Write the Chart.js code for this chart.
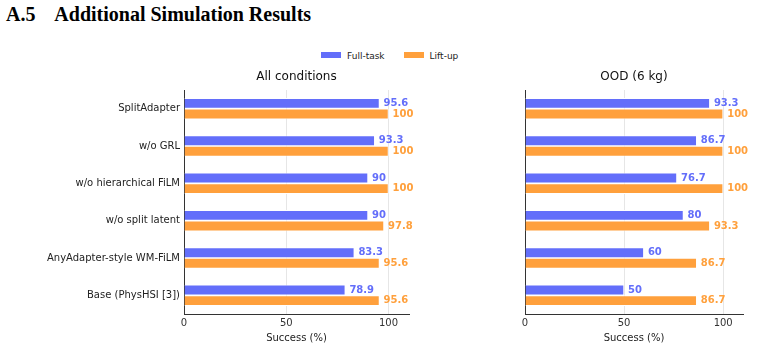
<!DOCTYPE html>
<html>
<head>
<meta charset="utf-8">
<script src="https://cdn.jsdelivr.net/npm/chart.js@4.4.1/dist/chart.umd.min.js"></script>
<style>
  body { margin: 0; background: #fff; width: 759px; height: 349px; position: relative; overflow: hidden; }
  h2 { position: absolute; left: 6px; top: 3px; margin: 0; font: bold 20px "Liberation Serif", "Times New Roman", serif; color: #000; }
  #legend { position: absolute; top: 51px; left: 321px; font: 9px "DejaVu Sans", sans-serif; color: #222; }
  #legend span.sw { display: inline-block; width: 20px; height: 6px; margin-right: 6px; vertical-align: 1px; }
  #legend span.it { margin-right: 19px; }
  .box { position: absolute; top: 62px; height: 287px; }
</style>
</head>
<body>
<h2>A.5&nbsp;&nbsp;&nbsp; Additional Simulation Results</h2>
<div id="legend"></div>
<div class="box" style="left:0;width:425px"><canvas id="c1"></canvas></div>
<div class="box" style="left:340px;width:419px"><canvas id="c2"></canvas></div>
<script>
// data
const categories = ['SplitAdapter', 'w/o GRL', 'w/o hierarchical FiLM', 'w/o split latent', 'AnyAdapter-style WM-FiLM', 'Base (PhysHSI [3])'];
const seriesNames = ['Full-task', 'Lift-up'];
const allFull = [95.6, 93.3, 90, 90, 83.3, 78.9];
const allLift = [100, 100, 100, 97.8, 95.6, 95.6];
const oodFull = [93.3, 86.7, 76.7, 80, 60, 50];
const oodLift = [100, 100, 100, 93.3, 86.7, 86.7];
const xTicks = [0, 50, 100];

const blue = '#636EFA';
const orange = '#FFA03C';
const font = '"DejaVu Sans", sans-serif';

// legend
document.getElementById('legend').innerHTML = seriesNames.map((n, i) =>
  `<span class="sw" style="background:${i ? orange : blue}"></span><span class="it">${n}</span>`).join('');

// value labels next to bar ends + panel title centred on the plot area
const extras = {
  id: 'extras',
  afterDatasetsDraw(chart, args, opts) {
    const ctx = chart.ctx;
    const area = chart.chartArea;
    ctx.save();
    ctx.font = 'bold 10px ' + font;
    ctx.textBaseline = 'middle';
    chart.data.datasets.forEach((ds, i) => {
      chart.getDatasetMeta(i).data.forEach((bar, j) => {
        ctx.fillStyle = ds.backgroundColor;
        ctx.fillText(String(ds.data[j]), bar.x + 4, bar.y);
      });
    });
    ctx.font = '12px ' + font;
    ctx.fillStyle = '#111';
    ctx.textAlign = 'center';
    ctx.fillText(opts.text, (area.left + area.right) / 2, area.top - 13);
    ctx.restore();
  }
};

function makeChart(id, title, full, lift, showLabels) {
  return new Chart(document.getElementById(id), {
    type: 'bar',
    data: {
      labels: categories,
      datasets: [
        { label: seriesNames[0], data: full, backgroundColor: blue, borderColor: '#fff', borderWidth: 0.8 },
        { label: seriesNames[1], data: lift, backgroundColor: orange, borderColor: '#fff', borderWidth: 0.8 }
      ]
    },
    options: {
      indexAxis: 'y',
      responsive: true,
      maintainAspectRatio: false,
      animation: false,
      categoryPercentage: 0.565,
      barPercentage: 1,
      layout: { padding: { top: 28, right: 16, bottom: 5, left: 0 } },
      plugins: {
        legend: { display: false },
        tooltip: { enabled: false },
        extras: { text: title }
      },
      scales: {
        x: {
          min: 0, max: 110,
          afterBuildTicks: a => { a.ticks = xTicks.map(v => ({ value: v })); },
          grid: { color: ctx => ctx.tick && ctx.tick.value === 0 ? 'rgba(0,0,0,0)' : '#e6e6e6', drawTicks: false },
          border: { display: true, color: '#333', width: 1 },
          ticks: { color: '#333', font: { family: font, size: 10 }, padding: 3 },
          title: { display: true, text: 'Success (%)', color: '#222', font: { family: font, size: 10 }, padding: { top: 0, bottom: 0 } }
        },
        y: {
          afterFit: s => { s.width = showLabels ? 184 : 185; },
          grid: { display: false, drawTicks: false },
          border: { display: true, color: '#333', width: 1 },
          ticks: { display: showLabels, color: '#222', font: { family: font, size: 10 }, padding: 4 }
        }
      }
    },
    plugins: [extras]
  });
}

makeChart('c1', 'All conditions', allFull, allLift, true);
makeChart('c2', 'OOD (6 kg)', oodFull, oodLift, false);
</script>
</body>
</html>
